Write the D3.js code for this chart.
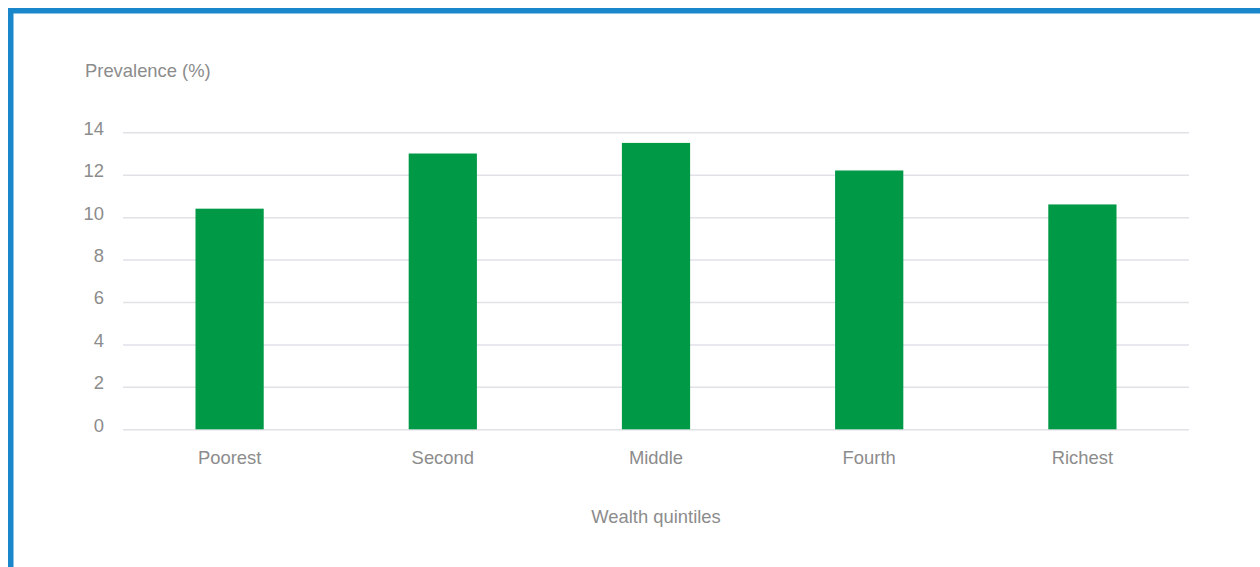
<!DOCTYPE html>
<html>
<head>
<meta charset="utf-8">
<script src="https://cdn.jsdelivr.net/npm/d3@7"></script>
<style>
  html, body { margin: 0; padding: 0; background: #fff; }
  svg { display: block; }
  text { font-family: "Liberation Sans", Arial, Helvetica, sans-serif; fill: #8c8c8c; }
</style>
</head>
<body>
<svg id="chart" width="1260" height="567"></svg>
<script>
// Prevalence by wealth quintile
const categories = ["Poorest", "Second", "Middle", "Fourth", "Richest"];
const prevalence = [10.4, 13.0, 13.5, 12.2, 10.6];
const yTicks = [0, 2, 4, 6, 8, 10, 12, 14];
const yAxisTitle = "Prevalence (%)";
const xAxisTitle = "Wealth quintiles";

const svg = d3.select("#chart");
const W = 1260, H = 567;
const fontSize = 18.4;

// Frame: blue rule along the top and left edges
svg.append("path")
  .attr("d", `M10.75,${H} V10.75 H${W}`)
  .attr("fill", "none")
  .attr("stroke", "#1a87cb")
  .attr("stroke-width", 5.5);

const plot = { left: 123, right: 1189, top: 132.3, bottom: 429.3 };

const x = d3.scaleBand()
  .domain(categories)
  .range([plot.left, plot.right])
  .paddingInner(0.68)
  .paddingOuter(0.34);

const y = d3.scaleLinear()
  .domain([0, 14])
  .range([plot.bottom, plot.top]);

// Horizontal gridlines
const yAxis = d3.axisLeft(y)
  .tickValues(yTicks)
  .tickSize(-(plot.right - plot.left))
  .tickFormat(d3.format("d"));

const gy = svg.append("g")
  .attr("transform", `translate(${plot.left},0)`)
  .call(yAxis);
gy.select(".domain").remove();
gy.selectAll(".tick line")
  .attr("stroke", "#e1e1e8")
  .attr("stroke-width", 1.5);
gy.selectAll(".tick text")
  .attr("x", -19)
  .attr("dy", "0.1em")
  .attr("font-size", fontSize)
  .style("fill", "#8c8c8c");

// Bars
svg.append("g")
  .selectAll("rect")
  .data(prevalence)
  .join("rect")
  .attr("x", (d, i) => x(categories[i]))
  .attr("width", x.bandwidth())
  .attr("y", d => y(d))
  .attr("height", d => y(0) - y(d))
  .attr("fill", "#009a47");

// Category labels
const xAxis = d3.axisBottom(x).tickSize(0).tickPadding(0);
const gx = svg.append("g")
  .attr("transform", `translate(0,${plot.bottom})`)
  .call(xAxis);
gx.select(".domain").remove();
gx.selectAll(".tick text")
  .attr("y", 35)
  .attr("dy", 0)
  .attr("font-size", fontSize)
  .style("fill", "#8c8c8c");

// Axis titles
svg.append("text")
  .attr("x", 85)
  .attr("y", 77)
  .attr("font-size", fontSize)
  .text(yAxisTitle);

svg.append("text")
  .attr("x", (plot.left + plot.right) / 2)
  .attr("y", 523)
  .attr("text-anchor", "middle")
  .attr("font-size", fontSize)
  .text(xAxisTitle);
</script>
</body>
</html>
